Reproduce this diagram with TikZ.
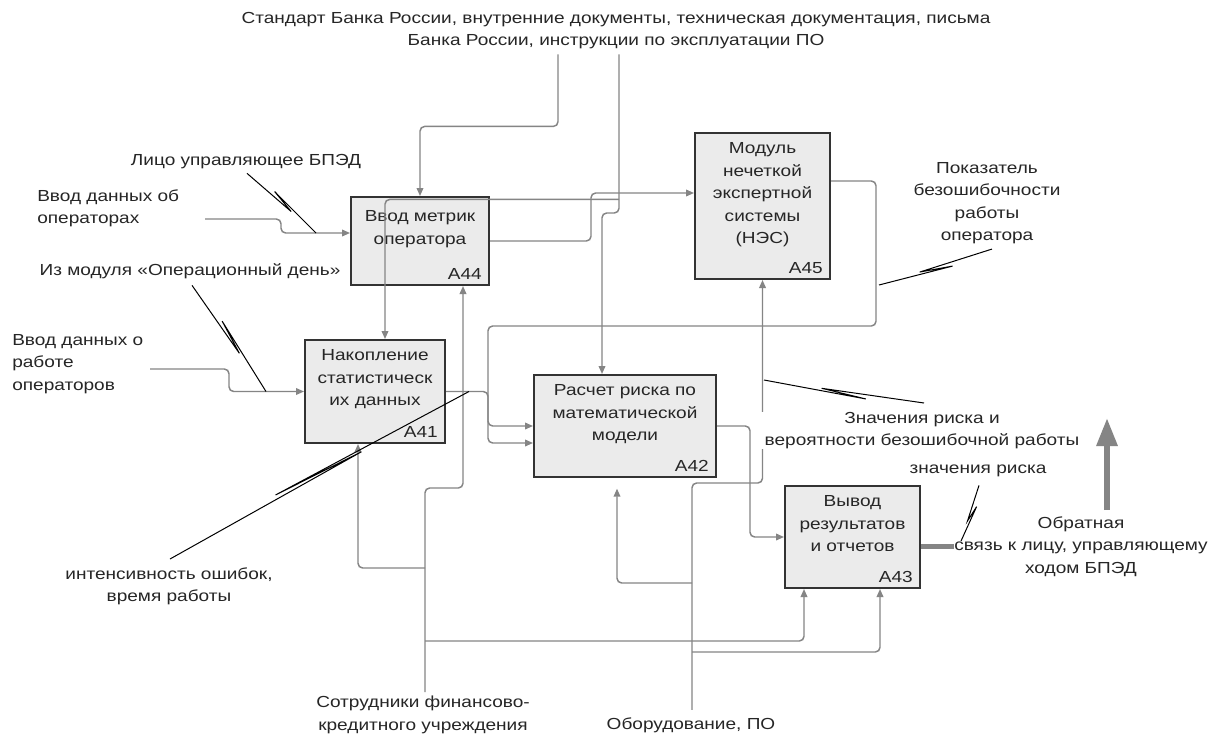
\documentclass[tikz,border=0pt]{standalone}
\usepackage{fontspec}
\setmainfont{Liberation Sans}[FakeStretch=1.19]
\definecolor{idefgrau}{HTML}{858585}
\definecolor{idefrand}{HTML}{333333}
\definecolor{idefbox}{HTML}{EBEBEB}
\definecolor{idefschrift}{HTML}{262626}
\usetikzlibrary{arrows.meta, positioning, calc}

\begin{document}
\begin{tikzpicture}[x=0.75pt, y=-0.75pt,
        every node/.style={inner sep=0pt, text=idefschrift,
                           font=\fontsize{12}{16.8}\selectfont},
        box/.style={rectangle, draw=idefrand, fill=idefbox, line width=1.5pt},
        lbl/.style={align=center},
        arr/.style={draw=idefgrau, line width=1.1pt, rounded corners=3.5pt,
                    -{Triangle[length=6pt, width=5pt]}},
        squig/.style={draw=black, line width=0.75pt},
        dick/.style={draw=idefgrau, line width=4pt},
        fb/.style={draw=idefgrau, line width=4.5pt,
                   -{Triangle[length=21pt, width=15pt]}}
      ]
      \fill[white] (0,0) rectangle (1226,735);
      \useasboundingbox (0,0) rectangle (1226,735);

      \node[box, minimum width=103.5pt, minimum height=66pt]     (a44) at (420,241) {};
      \node[box, minimum width=101.25pt, minimum height=109.5pt] (a45) at (762.5,206) {};
      \node[box, minimum width=105pt, minimum height=77.25pt]    (a41) at (375,391.5) {};
      \node[box, minimum width=136.5pt, minimum height=76.5pt]   (a42) at (625,426) {};
      \node[box, minimum width=101.25pt, minimum height=76.5pt]  (a43) at (852.5,537) {};

      \node[lbl, below=11pt of a44.north] (t44) {Ввод метрик\\оператора};
      \node[lbl, below=8pt of a45.north]  (t45) {Модуль\\нечеткой\\экспертной\\системы\\(НЭС)};
      \node[lbl, below=8pt of a41.north]  (t41) {Накопление\\статистическ\\их данных};
      \node[lbl, below=8pt of a42.north]  (t42) {Расчет риска по\\математической\\модели};
      \node[lbl, below=8pt of a43.north]  (t43) {Вывод\\результатов\\и отчетов};
      \node[above left=4.5pt and 6pt of a44.south east] (n44) {A44};
      \node[above left=4.5pt and 6pt of a45.south east] (n45) {A45};
      \node[above left=4.5pt and 6pt of a41.south east] (n41) {A41};
      \node[above left=4.5pt and 6pt of a42.south east] (n42) {A42};
      \node[above left=4.5pt and 6pt of a43.south east] (n43) {A43};

      \node[lbl, anchor=north] (std) at (616,12) {Стандарт Банка России, внутренние документы, техническая документация, письма\\Банка России, инструкции по эксплуатации ПО};
      \node[anchor=base] (lico) at (246,165.75) {Лицо управляющее БПЭД};
      \node[align=left, anchor=north west] (vvod1) at (37,189) {Ввод данных об\\операторах};
      \node[anchor=base] (izmod) at (190,275.75) {Из модуля «Операционный день»};
      \node[align=left, anchor=north west] (vvod2) at (12,334) {Ввод данных о\\работе\\операторов};
      \node[lbl, anchor=north] (pokaz) at (987,162) {Показатель\\безошибочности\\работы\\оператора};
      \node[anchor=base] (znrisk) at (978,473.75) {значения риска};
      \node[lbl] (obr) at (1081,546.5) {Обратная\\связь к лицу, управляющему\\ходом БПЭД};
      \node[lbl, anchor=north] (intens) at (169,567) {интенсивность ошибок,\\время работы};
      \node[lbl, anchor=north] (sotr) at (423,696) {Сотрудники финансово-\\кредитного учреждения};
      \node[anchor=base] (obor) at (691,729.75) {Оборудование, ПО};

      \coordinate (in44) at (205,219);
      \coordinate (in41) at (150,369);
      \coordinate (vz1) at ($(std.south)+(3,150)$);
      \coordinate (vz2) at (425,568);
      \coordinate (vz3) at (425,641);
      \coordinate (vz4) at (692,583);
      \coordinate (vz5) at (692,652);
      \coordinate (fbu) at (1107,510);
      \coordinate (fbo) at (1107,418);

      \draw[arr] ($(std.south)+(-58,5)$) -- ($(std.south)+(-58,77)$) -| (a44.north);
      \draw[arr] ($(std.south)+(3,5)$) |- (602,213) -- ($(a42.north)+(-23,0)$);
      \draw[arr] (vz1) -| ($(a41.north)+(10,0)$);
      \draw[arr] (in44) -- (281,219) |- ($(a44.west)+(0,-8)$);
      \draw[arr] (in41) -- (229,369) |- (a41.west);
      \draw[arr] (a44.east) -| ($(a45.west)+(-103,-13)$) -- ($(a45.west)+(0,-13)$);
      \draw[arr] (a41.east) -| (488,426) -- (a42.west);
      \draw[arr] ($(a45.east)+(0,-25)$) -- (876,181) |- (488,326) |- ($(a42.west)+(0,17)$);
      \draw[arr] (a42.east) -- (750,426) |- (a43.west);

      \draw[arr] ($(sotr.north)+(2,-4)$) -- (425,488) -| ($(a44.south)+(43,0)$);
      \draw[arr] (vz2) -| ($(a41.south)+(-17,0)$);
      \draw[arr] (vz3) -| ($(a43.south)+(-48.5,0)$);
      \draw[arr] ($(obor.north)+(1,-8)$) -- (692,483) -| (a45.south);
      \draw[arr, shorten >=8pt] (vz4) -| ($(a42.south)+(-8,0)$);
      \draw[arr] (vz5) -| ($(a43.south)+(27.5,0)$);

      \draw[dick] (a43.east |- obr.west) -- (obr.west);
      \draw[fb] (fbu) -- (fbo);

      \node[lbl, anchor=north, fill=white, inner xsep=3pt] (znach) at (922,412) {Значения риска и\\вероятности безошибочной работы};

      \coordinate (lico-s) at ($(lico.south)+(1,4)$);
      \coordinate (lico-e) at ($(a44.west)+(-34,-8)$);
      \coordinate (izmod-s) at ($(izmod.south)+(2,6)$);
      \coordinate (izmod-e) at ($(a41.west)+(-38,0)$);
      \coordinate (pokaz-s) at ($(pokaz.south)+(5,5)$);
      \coordinate (pokaz-e) at (879,285);
      \coordinate (intens-s) at ($(intens.north)+(1,-8)$);
      \coordinate (intens-e) at ($(a41.east)+(23,0)$);
      \coordinate (znach-s) at ($(znach.north)+(2,-9)$);
      \coordinate (znach-e) at (764,380);
      \coordinate (znrisk-s) at ($(znrisk.south)+(1,8)$);
      \coordinate (znrisk-e) at (961,541);
      \foreach \z in {lico, izmod, pokaz, intens, znach, znrisk}
        \draw[squig] (\z-s) -- ($(\z-s)!.64!(\z-e)$)
          -- ($(\z-s)!.36!(\z-e)!3.2pt!90:(\z-e)$) -- (\z-e);
    \end{tikzpicture}
\end{document}
